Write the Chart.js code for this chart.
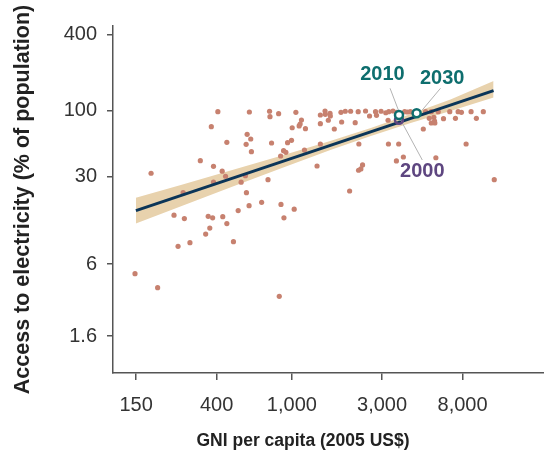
<!DOCTYPE html>
<html>
<head>
<meta charset="utf-8">
<script src="https://cdn.jsdelivr.net/npm/chart.js@4"></script>
<style>
  html, body { margin: 0; padding: 0; background: #fff; }
  canvas { display: block; }
</style>
</head>
<body>
<canvas id="gniChart" width="544" height="456"></canvas>
<script>
// axis ticks
const xTicks = [150, 400, 1000, 3000, 8000];
const yTicks = [1.6, 6, 30, 100, 400];

// countries: GNI per capita (2005 US$) and access to electricity (%)
const countryGni = [
  406, 596, 762, 766, 851, 1050, 1124, 1106, 1093, 1004,
  1180, 375, 580, 606, 573, 453, 781, 996, 949, 611,
  904, 930, 872, 1166, 328, 385, 180, 428, 446, 568,
  385, 539, 748, 266, 575, 692, 876,
  238, 270, 361, 381, 431, 453, 368, 350, 250, 289,
  491, 520, 594, 908, 1029, 148, 195, 858,
  1415, 1498, 1503, 1592, 1598, 1819, 1917, 2046, 2243, 2454,
  2576, 2771, 2804, 2965, 3139, 3255, 3429, 3573, 3951, 4084,
  4235, 5099, 5464, 5950, 6845, 7579, 7889, 8875, 10300,
  1415, 1559, 1677, 1834, 2163, 3228, 5333, 5639, 5687, 5464,
  5708, 6343, 7335, 9463, 4959, 1415, 2262, 3243, 3674, 8352,
  1359, 2366, 2318, 2254, 3573, 3890, 5778, 2021, 11770
];
const countryAccess = [
  97.9, 97.4, 98.7, 89.4, 94.4, 96.9, 84.1, 78.2, 75.4, 73.0,
  71.7, 74.4, 64.7, 59.4, 53.9, 55.9, 55.2, 58.0, 55.5, 47.1,
  47.9, 46.5, 43.5, 48.5, 39.9, 36.0, 31.7, 32.9, 30.0, 30.3,
  27.0, 26.9, 28.2, 22.2, 22.2, 18.6, 17.9,
  14.7, 13.8, 14.4, 14.0, 14.3, 12.6, 11.6, 10.4, 8.31, 8.88,
  9.04, 16.0, 17.5, 14.0, 16.4, 5.03, 3.89, 3.32,
  92.2, 99.2, 93.4, 95.1, 90.5, 96.9, 98.7, 98.7, 97.9, 99.2,
  90.5, 97.9, 91.7, 98.7, 96.1, 97.9, 99.2, 96.9, 97.9, 97.4,
  97.9, 97.9, 97.9, 97.9, 97.9, 97.9, 96.9, 97.9, 97.9,
  78.6, 83.7, 71.3, 81.1, 80.1, 83.7, 86.8, 88.4, 82.6, 79.6,
  79.6, 86.1, 86.8, 86.8, 71.3, 54.2, 54.2, 54.2, 54.2, 54.2,
  36.2, 36.9, 34.3, 33.5, 39.7, 42.7, 42.1, 22.9, 28.2
];

// fitted line and its confidence band
const fitGni = [149.6, 11670];
const fitAccess = [16.0, 143.9];
const bandGni = [149.6, 261.5, 479.3, 878.8, 1612, 2617, 4250, 6904, 11670];
const bandUpper = [20.2, 25.7, 33.5, 43.7, 57.6, 72.8, 93.9, 122.7, 172];
const bandLower = [12.6, 17.4, 24.6, 34.8, 48.8, 62.8, 79.6, 99.2, 127];

// highlighted years
const yearLabels = ['2000', '2010', '2030'];
const yearGni = [3688, 3688, 4571];
const yearAccess = [84.6, 92.2, 95.1];
const yearLabelGni = [4898, 3016, 6243];
const yearLabelAccess = [32.6, 195.4, 180.6];
const leaderStartGni = [4898, 3307, 6114];
const leaderStartAccess = [40.4, 150.4, 150.4];
const leaderEndGni = [3765, 3688, 4898];
const leaderEndAccess = [84.1, 97.9, 101];

const xTitle = 'GNI per capita (2005 US$)';
const yTitle = 'Access to electricity (% of population)';

const dotColor = '#c7816f';
const bandColor = '#e8d2ad';
const lineColor = '#0b3558';
const yearColors = ['#5e4680', '#0e6e6e', '#0e6e6e'];
const fontFamily = '"Liberation Sans", Arial, Helvetica, sans-serif';

const toPoints = (xs, ys) => xs.map((v, i) => ({ x: v, y: ys[i] }));

const yearLabelPlugin = {
  id: 'yearLabels',
  afterDatasetsDraw(chart) {
    const { ctx, scales: { x, y } } = chart;
    ctx.save();
    ctx.font = 'bold 20px ' + fontFamily;
    ctx.textAlign = 'center';
    ctx.textBaseline = 'middle';
    yearLabels.forEach((t, i) => {
      ctx.fillStyle = yearColors[i];
      ctx.fillText(t, x.getPixelForValue(yearLabelGni[i]), y.getPixelForValue(yearLabelAccess[i]));
    });
    // x axis title sits a bit left of the axis centre in the original
    ctx.font = 'bold 17.5px ' + fontFamily;
    ctx.fillStyle = '#222';
    ctx.fillText(xTitle, 303, 441);
    ctx.restore();
  }
};

const leaderSets = yearLabels.map((t, i) => ({
  label: 'leader ' + t,
  data: [
    { x: leaderStartGni[i], y: leaderStartAccess[i] },
    { x: leaderEndGni[i], y: leaderEndAccess[i] }
  ],
  showLine: true,
  borderColor: '#b3b3b3',
  borderWidth: 1,
  pointRadius: 0,
  order: 1
}));

const yearSets = [1, 0, 2].map(i => ({
  label: yearLabels[i],
  data: [{ x: yearGni[i], y: yearAccess[i] }],
  pointRadius: 4,
  pointBorderWidth: 2.5,
  borderColor: yearColors[i],
  backgroundColor: i === 0 ? 'rgba(255,255,255,0)' : '#fff',
  order: 0
}));

new Chart(document.getElementById('gniChart'), {
  type: 'scatter',
  data: {
    datasets: [
      {
        label: 'band lower',
        data: toPoints(bandGni, bandLower),
        showLine: true,
        borderWidth: 0,
        pointRadius: 0,
        fill: false,
        order: 5
      },
      {
        label: 'band upper',
        data: toPoints(bandGni, bandUpper),
        showLine: true,
        borderWidth: 0,
        pointRadius: 0,
        backgroundColor: bandColor,
        fill: '-1',
        order: 4
      },
      {
        label: 'countries',
        data: toPoints(countryGni, countryAccess),
        pointRadius: 2.6,
        pointBorderWidth: 0,
        backgroundColor: dotColor,
        order: 3
      },
      {
        label: 'fit',
        data: toPoints(fitGni, fitAccess),
        showLine: true,
        borderColor: lineColor,
        borderWidth: 3,
        pointRadius: 0,
        order: 2
      },
      ...leaderSets,
      ...yearSets
    ]
  },
  options: {
    responsive: false,
    animation: false,
    layout: {
      autoPadding: false,
      padding: { top: 26, right: 0, left: 0, bottom: 0 }
    },
    plugins: {
      legend: { display: false },
      tooltip: { enabled: false }
    },
    scales: {
      x: {
        type: 'logarithmic',
        min: 113.2,
        max: 21570,
        afterBuildTicks: s => { s.ticks = xTicks.map(v => ({ value: v })); },
        afterFit: s => { s.height = 83; },
        ticks: {
          callback: v => v.toLocaleString('en-US'),
          font: { family: fontFamily, size: 20 },
          color: '#333',
          padding: 13,
          maxRotation: 0,
          autoSkip: false
        },
        grid: { drawOnChartArea: false, tickLength: 7, color: '#555', lineWidth: 1.5 },
        border: { color: '#555', width: 1.5 }
      },
      y: {
        type: 'logarithmic',
        min: 0.815,
        max: 471,
        afterBuildTicks: s => { s.ticks = yTicks.map(v => ({ value: v })); },
        afterFit: s => { s.width = 113; },
        ticks: {
          callback: v => String(v),
          font: { family: fontFamily, size: 20 },
          color: '#333',
          padding: 10,
          autoSkip: false
        },
        grid: { drawOnChartArea: false, tickLength: 6, color: '#555', lineWidth: 1.5 },
        border: { color: '#555', width: 1.5 },
        title: {
          display: true,
          text: yTitle,
          font: { family: fontFamily, size: 21.5, weight: 'bold' },
          color: '#222',
          padding: { top: 10, bottom: 0 }
        }
      }
    }
  },
  plugins: [yearLabelPlugin]
});
</script>
</body>
</html>
